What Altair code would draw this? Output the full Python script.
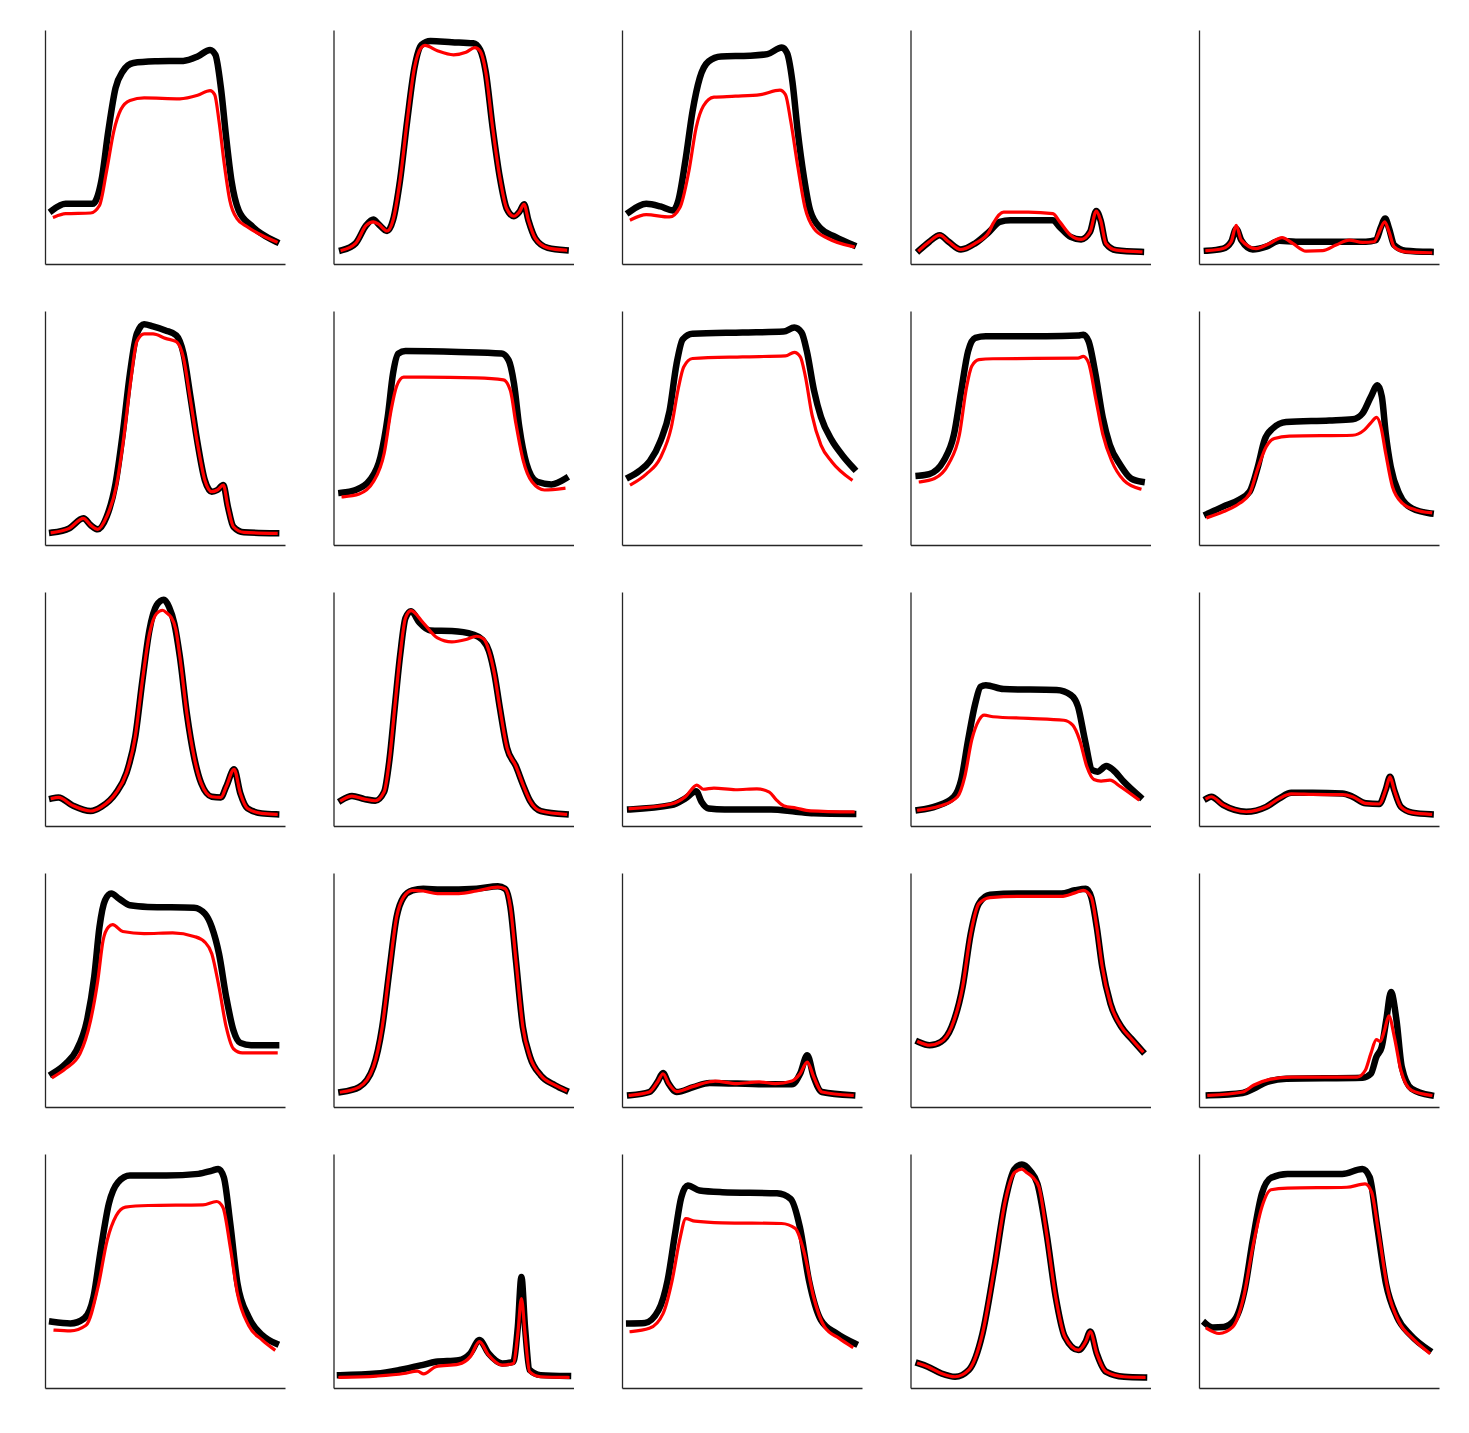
import altair as alt
import pandas as pd

# Each curve: list of (x, y) in axis percent units (x: 0-100, y: 0-100)
BLACK_01 = [(3,22.9),(8.6,25.7),(19.8,25.7),(23.5,35.6),(26.4,56.9),(29.4,75.2),(32.4,82.3),(36.8,85.9),(45.8,86.6),(57.6,86.8),(63.6,88.7),(68.8,91.5),(71,89.4),(73.3,75.2),(75.5,54),(77.7,35.6),(80.7,22.9),(85.9,16.5),(96.3,9.5)]
RED_01 = [(3.9,20.1),(8.6,21.5),(19,21.8),(22.7,25),(25.7,39.9),(28.7,56.9),(31.6,66),(35.4,69.9),(41.3,71),(56.2,70.6),(63.6,72.1),(68.8,74.1),(70.7,72.4),(72.5,61.1),(74.7,42.7),(77,27.2),(80,19.4),(84.4,15.8),(96.3,9.5)]

BLACK_02 = [(3.6,5.9),(9.2,8.8),(13.6,16.5),(16.6,19),(18.8,17),(22.3,14.1),(24.8,18.7),(27.7,35.6),(30.7,61.1),(33.7,83.7),(36.6,93.6),(40.4,95.3),(49.3,94.8),(58.2,94.3),(61.1,91.5),(63.4,82.3),(66.3,58.3),(69.3,37),(72.2,23.6),(75.2,20.4),(77.4,22.2),(79.4,25.5),(81.2,18.7),(84.1,10.9),(89.3,6.9),(96.7,5.9)]
RED_02 = [(3.6,5.9),(9.2,8.8),(13.6,16.5),(16.6,18),(18.8,17),(22.3,14.1),(24.8,18.7),(27.7,35.6),(30.7,61.1),(33.7,83.7),(36.6,92.5),(38.1,93.4),(43.3,91.1),(50,89.4),(55.2,90.5),(58.9,92.5),(61.1,91),(63.4,82.3),(66.3,58.3),(69.3,37),(72.2,23.6),(75.2,20.4),(77.4,22.2),(79.4,25.5),(81.2,18.7),(84.1,10.9),(89.3,6.9),(96.7,5.9)]

BLACK_03 = [(3,22.2),(10.1,25.7),(16,24.6),(21.2,22.9),(23.5,27.2),(26.4,44.1),(29.4,65.3),(32.4,79.5),(36.1,86.6),(41.3,88.7),(53.2,89),(60.6,89.7),(66.6,92.5),(68.8,90.1),(71,78),(73.2,56.9),(75.8,37.1),(78.4,22.9),(82.9,15.1),(88.9,11.6),(96.3,8.1)]
RED_03 = [(3.9,19),(10.1,21.1),(19.8,20.1),(24.2,24.3),(27.9,39.9),(30.9,58.3),(33.9,67.5),(38.3,71.3),(47.3,71.7),(57.7,72.4),(65.8,74.3),(68.1,72.4),(70.3,61.1),(73.3,41.3),(76.2,24.3),(80,15.1),(85.9,10.9),(96.3,7.4)]

BLACK_04 = [(3.7,5.9),(7.8,9.5),(12.2,12.3),(15.9,9.5),(21,6.2),(26.9,8.8),(32.7,13.7),(37.2,18),(41.6,18.7),(59.3,18.7),(62.2,15.8),(66.7,11.6),(71.1,10.5),(74.8,13.7),(77.4,22.6),(79.2,18.7),(81.4,8.8),(85.8,5.9),(96,5.2)]
RED_04 = [(3.7,5.9),(7.8,9.5),(12.2,12.3),(15.9,9.5),(21,6.2),(26.9,8.8),(32.7,13.7),(34.4,17.3),(38.8,22.2),(49.1,22.2),(59.3,21.5),(62.2,18),(66.7,12.3),(71.1,10.5),(74.8,13.7),(77.4,22.6),(79.2,18.7),(81.4,8.8),(85.8,5.9),(96,5.2)]

BLACK_05 = [(3.3,5.7),(10,6.6),(13.4,9.5),(15.5,15.1),(17.6,10.2),(22.4,6.2),(28,7.4),(33.5,9.9),(40.4,9.5),(61.2,9.5),(69.5,9.5),(73.7,10.2),(75.8,15.8),(77.6,19.4),(79.2,15.1),(81.3,8.1),(86.1,5.7),(96.5,5.2)]
RED_05 = [(3.3,5.7),(10,6.6),(13.4,9.5),(15.5,16.5),(17.6,10.2),(23.8,6.6),(29.4,8.8),(34.6,11.3),(39.1,8.8),(44.6,5.5),(51.5,5.7),(57.1,8.1),(62.6,10.2),(68.1,9.2),(73,9.5),(75.1,13.7),(77.4,18),(79.2,13.7),(81.3,7.4),(86.1,5.2),(96.5,4.8)]

BLACK_06 = [(3,5.3),(10.1,7.1),(16,11.4),(19,8.5),(22,6.7),(25.7,12.1),(29.4,26.3),(32.4,47.7),(35.4,73.3),(38.3,90.4),(41.3,94.3),(45,93.4),(50.2,91.7),(54.7,89.6),(57.7,81.8),(60.6,63.3),(63.6,43.4),(66.6,27.7),(69.5,22.8),(71.8,23.5),(74.3,25.6),(76.2,16.4),(78.5,7.8),(82.9,5.4),(96.3,5)]
RED_06 = [(3,5.3),(10.1,7.1),(16,11.4),(19,8.5),(22,6.7),(25.7,12.1),(29.7,25),(32.7,45),(35.7,70),(38.3,87),(41.3,90.2),(45,90.2),(50.2,88.3),(54.7,86.9),(57.7,80),(60.6,62),(63.6,43),(66.6,27.7),(69.5,22.8),(71.8,23.5),(74.3,25.6),(76.2,16.4),(78.5,7.8),(82.9,5.4),(96.3,5)]

BLACK_07 = [(3.3,22.3),(9.2,23.5),(15.1,27.7),(19.6,37.7),(22.6,54.8),(24.8,73.3),(27,81.8),(30,82.9),(52.2,82.5),(70,81.8),(73,78.9),(75.2,69),(77.4,50.5),(80.4,34.8),(84.9,27),(90.8,25.9),(96.7,28.4)]
RED_07 = [(4,20.6),(10.7,21.8),(16.6,27),(21.1,39.1),(24,57.6),(26.2,67.6),(29.2,71.7),(37.4,71.7),(59.6,71.4),(70.8,70.6),(73.7,66),(76,51.9),(79,36.3),(82.7,27),(87.9,23.5),(96,24.2)]

BLACK_08 = [(3,29),(7.1,31.6),(11.6,35.8),(16,44.4),(19.8,57.2),(22.7,77.2),(25.3,87.9),(29.4,90.3),(50.2,90.8),(67.3,91.2),(71.8,92.9),(74.8,90.8),(77,82.9),(80,66.1),(82.9,54.7),(87.4,44.8),(91.8,38.4),(96.6,32.7)]
RED_08 = [(3.9,25.9),(10.1,30.3),(16,37.3),(20.5,50.1),(23.5,67.1),(25.7,76.1),(29.4,79.7),(50.2,80.4),(68.1,80.8),(71.8,82.3),(74.3,80.4),(76.3,72.6),(79.2,55.5),(82.9,42.7),(87.4,35.6),(95.5,28)]

BLACK_09 = [(3.4,29.6),(7.8,30.3),(13.7,35.8),(18.1,47.2),(21.1,65.7),(24,82.8),(27,88.5),(31.4,89.2),(56.5,89.2),(69.8,89.5),(72,89.9),(74.2,87.1),(77.1,72.9),(80.1,54.5),(83,43),(87.5,34.1),(91.9,28.4),(96.3,27)]
RED_09 = [(4.1,27),(10,28.4),(15.9,34.7),(20.4,47.2),(23.3,67.1),(25.5,76.4),(28.5,79.2),(34.4,79.6),(69.8,79.9),(72,80.6),(74.2,77.8),(77.1,63),(80.1,47.4),(83.8,36),(88.9,27.6),(95.6,24)]

BLACK_10 = [(3.3,13.2),(10,16.4),(16.9,19.5),(21.1,22.8),(24.5,33.4),(27.3,44.8),(30.7,49.8),(36.3,52.6),(54.3,53.2),(64,53.7),(68.1,56.2),(71.6,63.3),(74.4,68.3),(76.2,63.3),(77.8,47.7),(79.9,33.4),(83.4,22),(88.9,15.6),(96.5,13.5)]
RED_10 = [(3.7,11.8),(10,14.2),(16.9,17.8),(21.1,22),(24.5,32.7),(28,42),(31.4,45.5),(37.7,46.5),(64,46.9),(68.8,49.1),(71.6,52.2),(74,54.5),(75.8,50.5),(77.8,39.1),(80.6,24.9),(84.8,17.8),(90.3,15),(96.5,13.8)]

BLACK_11 = [(3,11.8),(5.6,12.2),(11.6,8.7),(19,6.4),(23.5,8.2),(29.4,13.9),(33.9,22.5),(37.6,38.1),(40.6,62.3),(43.5,83.6),(46.5,94.3),(49.5,96.7),(51.7,93.6),(53.9,86.5),(56.2,72.3),(59.1,48.1),(62.1,29.6),(65.1,18.2),(69.5,12.5),(73.3,12.2),(75.5,16.8),(78.8,24.2),(81.4,13.9),(84.4,7.5),(90.3,5.4),(96.3,5)]
RED_11 = [(3,11.8),(5.6,12.2),(11.6,8.7),(19,6.4),(23.5,8.2),(29.4,13.9),(33.9,22.5),(37.6,38.1),(40.6,62.3),(43.5,82),(46.5,90.8),(49,92.2),(51,90.8),(52.4,89.4),(54.5,84),(56.2,72.3),(59.1,48.1),(62.1,29.6),(65.1,18.2),(69.5,12.5),(73.3,12.2),(75.5,16.8),(78.8,24.2),(81.4,13.9),(84.4,7.5),(90.3,5.4),(96.3,5)]

BLACK_12 = [(3.3,11),(7.7,12.8),(12.9,11.5),(17.4,10.8),(21.1,14.6),(23.3,28.2),(25.5,50.5),(27.8,73.3),(30,88.9),(32.3,91.8),(35.9,86.8),(40.4,83.5),(49.3,83.3),(58.2,81.8),(61.9,79.7),(64.8,74.7),(67.1,64.7),(69.3,50.5),(72.3,33.4),(76,25.6),(78.9,17.8),(81.9,10.7),(86.4,6.4),(96.7,5)]
RED_12 = [(3.3,11),(7.7,12.8),(12.9,11.5),(17.4,10.8),(21.1,14.6),(23.3,28.2),(25.5,50.5),(27.8,73.3),(30,88.9),(32.3,92),(37.4,86.8),(43.3,80.4),(49.3,78.7),(55.2,79.7),(59.6,81.1),(62.6,79.9),(64.8,74.7),(67.1,64.7),(69.3,50.5),(72.3,33.4),(76,25.6),(78.9,17.8),(81.9,10.7),(86.4,6.4),(96.7,5)]

BLACK_13 = [(3.4,7.1),(20.5,8.9),(26.4,11.8),(30.9,14.9),(33.1,10.4),(36.1,7.5),(42.8,7.1),(62.1,7.1),(72.5,6.1),(79.9,5.4),(96.3,5.1)]
RED_13 = [(3.4,7.4),(20.5,9.4),(26.4,12.5),(31.2,17.5),(33.9,15.7),(38.3,16.2),(47.3,15.5),(56.2,15.9),(61.4,14.5),(64.3,11.2),(67.3,8.7),(72.5,7.7),(78.4,6.5),(96.3,6)]

BLACK_14 = [(3.4,6.8),(10.8,8.5),(18.1,12.5),(21.1,19.6),(24,36.7),(27,52.4),(29.2,59.5),(31.4,60.2),(38.8,58.5),(60.9,58.1),(66.8,56),(69.8,51),(72.7,36.7),(75.7,23.9),(77.9,23.2),(81.6,25.6),(84.5,23.9),(88.9,18.9),(95.6,12.5)]
RED_14 = [(3.4,6.8),(12.2,8.5),(19.6,12.5),(22.6,21),(25.5,36.7),(28.5,45.2),(30.7,47.4),(34.4,46.7),(49.1,46),(63.9,45.2),(67.6,43.1),(70.5,36.7),(73.5,25.3),(76.4,19.9),(79.4,19.2),(83.1,19.6),(87.5,16.8),(94.8,11.4)]

BLACK_15 = [(3.3,11.8),(5.1,12.5),(10,9),(19.7,6.1),(28,8.2),(33.5,11.8),(38.4,14.2),(47.4,14.2),(59.8,13.9),(64,12.5),(69.5,9.7),(75.1,9.4),(77.8,15.5),(79.6,21),(81.3,15.5),(84.1,8.2),(88.9,5.7),(96.5,5)]
RED_15 = [(3.3,11.8),(5.1,12.5),(10,9),(19.7,6.1),(28,8.2),(33.5,11.8),(38.4,13.7),(47.4,13.5),(59.8,13.4),(64,12.5),(69.5,9.7),(75.1,9.4),(77.8,15.5),(79.6,21),(81.3,15.5),(84.1,8.2),(88.9,5.7),(96.5,5)]

BLACK_16 = [(3,14.2),(8.6,18.5),(13.1,24.2),(17.5,37),(20.5,55.6),(22.7,76.9),(25,88.3),(27.6,91.2),(30.9,89),(35.4,86.2),(42.8,85.5),(62.1,85.2),(66.6,82.6),(69.5,76.9),(72.5,65.5),(75.5,47),(78.5,32.8),(81.4,27.4),(85.9,26.4),(96.3,26.4)]
RED_16 = [(3.4,12.8),(8.6,16.4),(14.6,22.8),(19,37),(22,54.1),(24.2,71.2),(26.4,76.9),(28.2,77.9),(32.4,75),(41.3,74.1),(53.2,74.4),(62.1,72.9),(66.6,70.5),(69.5,65.5),(72.5,51.3),(75.5,34.2),(78.5,24.9),(82.2,23.1),(96.3,23.1)]

BLACK_17 = [(3.3,6.4),(10.7,8.5),(16.6,17.1),(20.3,34.2),(23.3,58.4),(26.3,81.2),(29.2,89.7),(32.9,92.6),(37.4,93.3),(44.8,92.9),(59.6,93.3),(68.5,94.3),(71.5,93.3),(73.7,85.5),(76,62.7),(78.9,34.2),(81.9,21.4),(86.4,13.5),(92.3,9.3),(96.7,7.1)]
RED_17 = [(3.3,6.4),(10.7,8.5),(16.6,17.1),(20.3,34.2),(23.3,58.4),(26.3,81.2),(29.2,89.7),(32.9,92.6),(37.4,92.3),(43.3,91.2),(52.2,91.2),(59.6,92.3),(68.5,94),(71.5,93.3),(73.7,85.5),(76,62.7),(78.9,34.2),(81.9,21.4),(86.4,13.5),(92.3,9.3),(96.7,7.1)]

BLACK_18 = [(3.4,5),(11.4,6.4),(14.8,10.7),(17.1,14.5),(19.4,10),(22.8,6.4),(29.7,8.5),(36.5,10.3),(59.4,9.7),(70.8,9.7),(74.2,14.2),(77.2,22.1),(79.9,12.8),(83.3,6.4),(95.9,5)]
RED_18 = [(3.4,5),(11.4,6.4),(14.8,10.7),(17.1,14.2),(19.4,10),(22.8,6.6),(29.7,8.8),(36.5,10.8),(38.8,11.1),(47.9,10),(57.1,10.7),(63.9,10),(70.8,11.1),(74.2,14.2),(77.2,19.2),(79.9,12.8),(83.3,6.4),(95.9,5)]

BLACK_19 = [(3.4,27.8),(8,26.4),(12.6,27.8),(17.1,34.2),(21.7,51.3),(25.1,74.1),(28.5,86.9),(33.1,90.7),(44.5,91.2),(62.8,91.2),(68.5,92.6),(73.1,93.3),(75.3,89.7),(77.6,76.9),(79.9,59.8),(83.3,44.2),(87.9,34.2),(92,29.2),(96.6,23.9)]
RED_19 = [(3.4,27.8),(8,26.4),(12.6,27.8),(17.1,34.2),(21.7,51.3),(25.1,74.1),(28.5,86.9),(33.1,89.5),(44.5,90),(62.8,90),(68.5,91.5),(72,92.6),(75.3,89.7),(77.6,76.9),(79.9,59.8),(83.3,44.2),(87.9,34.2),(92,29.2),(96.6,23.9)]

BLACK_20 = [(4.1,5),(18.2,6),(22.7,7.8),(28.4,10.7),(36.4,12.1),(68.2,12.5),(71.6,14.2),(73.9,21.4),(76.1,25.6),(78,37),(80,49.1),(82.3,37),(84.5,17.1),(88.6,7.8),(96.6,5)]
RED_20 = [(4.1,5),(18.2,6.4),(22.7,9.3),(29.5,11.8),(38.6,12.8),(65.9,12.8),(69.3,15.7),(71.6,22.8),(73.9,28.8),(75.5,28),(77.3,32.8),(79.1,38.9),(81.4,29.9),(84.1,15.7),(88.6,7.1),(96.6,5)]

BLACK_21 = [(3,28.3),(10.6,27.6),(16.3,29.7),(20.2,38.9),(23.2,58.8),(26.6,78.7),(30.4,87.9),(35.4,90.8),(50.6,90.8),(63.9,91.5),(69.6,92.9),(72.2,93.6),(74.5,90.1),(77.2,70.2),(80.2,44.6),(84.8,30.4),(90.5,22.6),(96.2,19)]
RED_21 = [(4.2,24.7),(10.6,24.4),(17.1,26.8),(22.1,43.2),(25.9,63.1),(29.7,73.7),(33.5,77.3),(43,78),(65.8,78.3),(71.5,79.7),(74.1,77.3),(77.2,60.2),(80.2,40.3),(84.8,26.8),(90.5,20.5),(95.4,16.5)]

BLACK_22 = [(2.7,5.5),(17.9,6.2),(27.4,7.7),(36.9,9.8),(42.6,11.2),(52.1,11.9),(57,14.8),(60.8,20.5),(64.6,14.8),(70.3,10.5),(74.9,11.2),(76.8,26.1),(78.3,47.4),(79.8,26.1),(81.7,7.7),(86.3,5.5),(97.7,5.1)]
RED_22 = [(2.7,4.5),(17.9,5.1),(29.3,6.2),(35,7.2),(37.6,6),(42.6,9.1),(52.1,10.2),(57,13.4),(60.8,19.8),(64.6,14.1),(70.3,9.8),(74.9,10.5),(76.8,23.3),(78.3,38.2),(79.8,23.3),(81.7,7),(86.3,4.8),(97.7,4.5)]

BLACK_23 = [(3,27.6),(9.5,27.8),(15.2,33.2),(19,46),(22.1,65.9),(24.7,81.5),(27.4,86.5),(32.3,84.4),(41.8,83.7),(64.6,83.2),(70.3,80.8),(74.1,68.8),(77.9,46),(82.9,29),(89.4,23.3),(97,19)]
RED_23 = [(3.8,24.1),(11.4,25.5),(17.1,31.8),(20.9,46),(24,63.1),(26.6,72.4),(30.4,71.3),(41.8,70.6),(66.5,70.3),(72.2,68.2),(76,57.5),(79.8,39),(84.4,26.1),(90.5,21.2),(95.8,17.6)]

BLACK_24 = [(3.4,10.5),(7.2,9.1),(12.9,6.2),(18.6,4.8),(24.3,7.7),(30,23.3),(35,51.7),(39.5,80.1),(43.3,93.5),(46.4,95.5),(49.8,92.9),(52.9,87.2),(56.7,65.9),(60.5,38.9),(64.3,21.9),(70,16.2),(73,19.8),(74.9,24.1),(77.6,14.8),(81.4,7),(89,4.8),(97.3,4.5)]
RED_24 = [(3.4,10.5),(7.2,9.1),(12.9,6.2),(18.6,4.8),(24.3,7.7),(30,23.3),(35,51.7),(39.5,80.1),(43.3,92),(46.4,93.5),(48.5,92),(51,90),(53.5,86),(56.7,65.9),(60.5,38.9),(64.3,21.9),(70,16.2),(73,19.8),(74.9,24.1),(77.6,14.8),(81.4,7),(89,4.8),(97.3,4.5)]

BLACK_25 = [(2.7,27.6),(5.7,25.9),(10.3,26.1),(14.8,29),(19,41.8),(22.4,63.1),(26.2,83),(30,89.8),(36.9,91.5),(59.7,91.5),(68.1,93.6),(71.1,90.1),(74.1,70.2),(77.9,44.6),(82.5,30.4),(88.2,22.6),(95.8,16.2)]
RED_25 = [(3.4,25.4),(8.4,23.3),(14.1,26.1),(18.6,38.9),(22.4,60.2),(26.2,77.3),(30,84.7),(36.9,85.4),(61.6,85.8),(69.2,87.2),(71.9,83.7),(74.9,65.9),(78.7,41.8),(83.3,28.3),(89,21.2),(95.8,15.1)]

PANELS = [
    (BLACK_01, RED_01), (BLACK_02, RED_02), (BLACK_03, RED_03), (BLACK_04, RED_04), (BLACK_05, RED_05),
    (BLACK_06, RED_06), (BLACK_07, RED_07), (BLACK_08, RED_08), (BLACK_09, RED_09), (BLACK_10, RED_10),
    (BLACK_11, RED_11), (BLACK_12, RED_12), (BLACK_13, RED_13), (BLACK_14, RED_14), (BLACK_15, RED_15),
    (BLACK_16, RED_16), (BLACK_17, RED_17), (BLACK_18, RED_18), (BLACK_19, RED_19), (BLACK_20, RED_20),
    (BLACK_21, RED_21), (BLACK_22, RED_22), (BLACK_23, RED_23), (BLACK_24, RED_24), (BLACK_25, RED_25),
]

AXIS = alt.Axis(title="", labels=False, ticks=False, grid=False,
                domainColor="#262626", domainWidth=1.3)
XS = alt.Scale(domain=[0, 100], nice=False, zero=False)
YS = alt.Scale(domain=[0, 100], nice=False, zero=False)


def make_panel(black, red):
    db = pd.DataFrame(black, columns=["x", "y"])
    dr = pd.DataFrame(red, columns=["x", "y"])
    enc = dict(x=alt.X("x:Q", scale=XS, axis=AXIS),
               y=alt.Y("y:Q", scale=YS, axis=AXIS))
    lb = alt.Chart(db).mark_line(color="#000000", strokeWidth=6.5, interpolate="monotone",
                                 strokeJoin="round", strokeCap="square").encode(**enc)
    lr = alt.Chart(dr).mark_line(color="#ff0000", strokeWidth=3.2, interpolate="monotone",
                                 strokeJoin="round", strokeCap="square").encode(**enc)
    return alt.layer(lb, lr).properties(width=240, height=234)


rows = []
for r in range(5):
    rows.append(alt.hconcat(*[make_panel(*PANELS[r * 5 + c]) for c in range(5)], spacing=48.5))

chart = alt.vconcat(*rows, spacing=47).properties(
    padding={"left": 37, "top": 22, "right": 5, "bottom": 5},
    background="white",
).configure_view(stroke="transparent", strokeWidth=0)

chart.save("out.html", embed_options={"renderer": "svg", "actions": False})
